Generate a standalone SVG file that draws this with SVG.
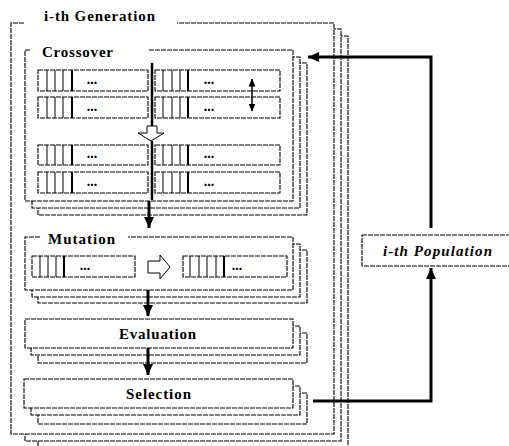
<svg xmlns="http://www.w3.org/2000/svg" width="509" height="446" viewBox="0 0 509 446">
<defs>
<marker id="ah" markerUnits="userSpaceOnUse" markerWidth="12" markerHeight="12" viewBox="0 0 12 12" refX="11" refY="6" orient="auto"><path d="M0,1 L11,6 L0,11 Z" fill="#000"/></marker>
<marker id="ahs" markerUnits="userSpaceOnUse" markerWidth="8" markerHeight="8" viewBox="0 0 8 8" refX="7.5" refY="4" orient="auto-start-reverse"><path d="M0,0.5 L8,4 L0,7.5 Z" fill="#000"/></marker>
</defs>
<style>
.bx{fill:#fff;stroke:#000;stroke-width:1.1;stroke-dasharray:5 1}
.fl{fill:#fff;stroke:none}
.ln{fill:none;stroke:#000;stroke-width:1.1;stroke-dasharray:5 1}
.cell{stroke:#000;stroke-width:1}
.sep{stroke:#000;stroke-width:2}
.t{font-family:"Liberation Serif",serif;font-weight:bold;font-size:15px;fill:#000}
.dots{font-family:"Liberation Serif",serif;font-weight:bold;font-size:14px;fill:#000;text-anchor:middle}
.con{fill:none;stroke:#000;stroke-width:3}
.hol{fill:#fff;stroke:#000;stroke-width:1}
</style>
<g id="generation">
<rect class="bx" x="38" y="36" width="310" height="414"/>
<rect class="bx" x="25" y="29" width="316" height="412"/>
<rect class="fl" x="11" y="23" width="323" height="411"/>
<path class="ln" d="M24,23 H11 V434 H334 V23 H177"/>
<text class="t" x="44" y="21" textLength="111">i-th Generation</text>
</g>
<g id="crossover">
<rect class="bx" x="38" y="63" width="269" height="152"/>
<rect class="bx" x="32" y="57" width="268" height="151"/>
<rect class="fl" x="25" y="50" width="268" height="151"/>
<path class="ln" d="M30,50 H25 V201 H293 V50 H148"/>
<text class="t" x="42" y="57" textLength="71">Crossover</text>
<g id="cx-chromosomes">
<rect class="bx" x="38" y="70" width="110" height="21"/>
<rect class="bx" x="38" y="97" width="110" height="21"/>
<rect class="bx" x="38" y="145" width="110" height="20"/>
<rect class="bx" x="38" y="172" width="110" height="21"/>
<rect class="bx" x="155" y="70" width="125" height="21"/>
<rect class="bx" x="155" y="97" width="125" height="21"/>
<rect class="bx" x="155" y="145" width="125" height="20"/>
<rect class="bx" x="155" y="172" width="125" height="21"/>
<path class="cell" d="M47,70V91M55,70V91M63,70V91M47,97V118M55,97V118M63,97V118M47,145V165M55,145V165M63,145V165M47,172V193M55,172V193M63,172V193"/>
<path class="sep" d="M72,70V91M72,97V118M72,145V165M72,172V193"/>
<path class="cell" d="M163,70V91M172,70V91M180,70V91M163,97V118M172,97V118M180,97V118M163,145V165M172,145V165M180,145V165M163,172V193M172,172V193M180,172V193"/>
<path class="sep" d="M188,70V91M188,97V118M188,145V165M188,172V193"/>
<text class="dots" x="92" y="84">...</text>
<text class="dots" x="92" y="111">...</text>
<text class="dots" x="92" y="158">...</text>
<text class="dots" x="92" y="186">...</text>
<text class="dots" x="209" y="84">...</text>
<text class="dots" x="209" y="111">...</text>
<text class="dots" x="209" y="158">...</text>
<text class="dots" x="209" y="186">...</text>
</g>
<path d="M152,63 V127 M152,141 V200" stroke="#000" stroke-width="2.5" fill="none"/>
<path class="hol" d="M147,126 H157 V133 H164 L151,141 L138,133 H147 Z"/>
<line x1="252" y1="79" x2="252" y2="111" stroke="#000" stroke-width="1.5" marker-start="url(#ahs)" marker-end="url(#ahs)"/>
</g>
<g id="mutation">
<rect class="bx" x="38" y="250" width="269" height="53"/>
<rect class="bx" x="32" y="244" width="268" height="53"/>
<rect class="fl" x="25" y="237" width="268" height="53"/>
<path class="ln" d="M40,237 H25 V290 H293 V237 H128"/>
<text class="t" x="48" y="244" textLength="67">Mutation</text>
<rect class="bx" x="32" y="256" width="103" height="21"/>
<path class="cell" d="M40,256V277M48,256V277M56,256V277"/>
<path class="sep" d="M64,256V277"/>
<text class="dots" x="85" y="270">...</text>
<path class="hol" d="M148,261 H160 V255 L170,267 L160,279 V273 H148 Z"/>
<rect class="bx" x="183" y="256" width="104" height="21"/>
<path class="cell" d="M190,256V277M199,256V277M207,256V277M216,256V277"/>
<path class="sep" d="M224,256V277"/>
<text class="dots" x="237" y="270">...</text>
</g>
<g id="evaluation">
<rect class="bx" x="38" y="333" width="269" height="30"/>
<rect class="bx" x="31" y="326" width="269" height="29"/>
<rect class="bx" x="25" y="319" width="268" height="29"/>
<text class="t" x="119" y="339" textLength="77">Evaluation</text>
</g>
<g id="selection">
<rect class="bx" x="38" y="393" width="269" height="31"/>
<rect class="bx" x="31" y="386" width="269" height="29"/>
<rect class="bx" x="24" y="379" width="269" height="29"/>
<text class="t" x="126" y="399" textLength="65">Selection</text>
</g>
<g id="population">
<rect class="bx" x="362" y="235" width="150" height="31"/>
<text class="t" x="383" y="256" font-style="italic" textLength="109">i-th Population</text>
</g>
<g id="connectors">
<line class="con" x1="149" y1="201" x2="149" y2="228" marker-end="url(#ah)"/>
<line class="con" x1="148" y1="290" x2="148" y2="316" marker-end="url(#ah)"/>
<line class="con" x1="148" y1="348" x2="148" y2="375" marker-end="url(#ah)"/>
<path class="con" d="M431,228 V57 H308" marker-end="url(#ah)"/>
<path class="con" d="M313,401 H431 V268" marker-end="url(#ah)"/>
</g>
</svg>
